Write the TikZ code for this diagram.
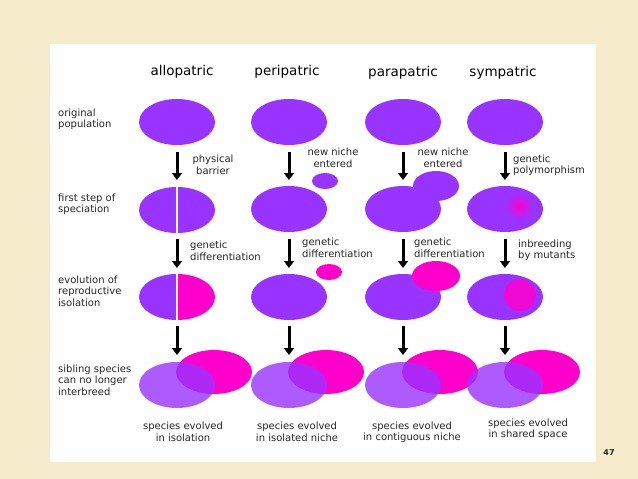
\documentclass[tikz,border=0pt]{standalone}
\usepackage{fontspec}
\usetikzlibrary{arrows.meta}
\setmainfont{DejaVu Sans}
\begin{document}
\begin{tikzpicture}[x=1pt,y=-1pt,
  lbl/.style={font=\fontsize{10}{11.5}\selectfont,align=left,inner sep=0pt,text=black!85},
  hdr/.style={font=\fontsize{13.5}{15}\selectfont,inner sep=0pt},
  arr/.style={-{Triangle[length=7pt,width=10pt]},line width=3pt}]
\definecolor{pur}{HTML}{9933FF}
\definecolor{mag}{HTML}{FF00CC}
\definecolor{parch}{HTML}{F6ECCB}
\fill[parch] (0,0) rectangle (638,479);
\useasboundingbox (0,0) rectangle (638,479);
\fill[white] (50,44) rectangle (596,462);
% headers
\node[hdr] (h1) at (182,72) {allopatric};
\node[hdr] (h2) at (287,72) {peripatric};
\node[hdr] (h3) at (403,73) {parapatric};
\node[hdr] (h4) at (503,73) {sympatric};
% left labels
\node[lbl,anchor=west] (l1) at (58,119) {original\\population};
\node[lbl,anchor=west] (l2) at (58,204) {first step of\\speciation};
\node[lbl,anchor=west] (l3) at (58,291) {evolution of\\reproductive\\isolation};
\node[lbl,anchor=west] (l4) at (58,380) {sibling species\\can no longer\\ interbreed};
% row 1
\foreach \x/\n in {177/a,289/b,403/c,505/d}
  \fill[pur] (\x,122) ellipse [x radius=38,y radius=23];
% row 2
\fill[pur] (177,210) ellipse [x radius=38,y radius=23];
\fill[white] (175.8,186) rectangle (178.2,234);
\fill[pur] (325,181) ellipse [x radius=13,y radius=8];
\fill[pur] (289,209) ellipse [x radius=38,y radius=23];
\fill[pur] (403,209) ellipse [x radius=38,y radius=23];
\fill[pur] (436,186) ellipse [x radius=23,y radius=15];
\fill[pur] (505,209) ellipse [x radius=38,y radius=23];
\shade[inner color=mag,outer color=pur] (519,206) circle (14);
% row 3
\begin{scope}
\clip (177,297) ellipse [x radius=38,y radius=23];
\fill[pur] (130,270) rectangle (177,330);
\fill[mag] (177,270) rectangle (220,330);
\end{scope}
\fill[white] (175.8,273) rectangle (178.2,321);
\fill[pur] (289,297) ellipse [x radius=38,y radius=23];
\fill[mag] (329,272) ellipse [x radius=13,y radius=8];
\fill[pur] (403,297) ellipse [x radius=38,y radius=23];
\fill[mag] (436,276) ellipse [x radius=24,y radius=15];
\fill[pur] (505,297) ellipse [x radius=38,y radius=23];
\fill[mag!85!pur] (520,295) circle (16);
% row 4
\foreach \x in {177,289,403,505}{
  \fill[mag] (\x+37,372) ellipse [x radius=38,y radius=22];
  \fill[pur,fill opacity=0.8] (\x,385) ellipse [x radius=38,y radius=23];
}
% arrows
\foreach \x/\k in {177/a,289/b,403/c,505/d}{
  \coordinate (s1\k) at (\x,152); \coordinate (e1\k) at (\x,180);
  \coordinate (s2\k) at (\x,239); \coordinate (e2\k) at (\x,268);
  \coordinate (s3\k) at (\x,326); \coordinate (e3\k) at (\x,355);
  \draw[arr] (s1\k) -- (e1\k);
  \draw[arr] (s2\k) -- (e2\k);
  \draw[arr] (s3\k) -- (e3\k);
}
% side labels
\node[lbl,align=center] (t1) at (213,165) {physical\\barrier};
\node[lbl,align=center] (t2) at (333,158) {new niche\\entered};
\node[lbl,align=center] (t3) at (443,158) {new niche\\entered};
\node[lbl,anchor=west] (t4) at (513,165) {genetic\\ polymorphism};
\node[lbl,anchor=west] (g1) at (190,251) {genetic\\differentiation};
\node[lbl,anchor=west] (g2) at (302,248) {genetic\\differentiation};
\node[lbl,anchor=west] (g3) at (414,248) {genetic\\differentiation};
\node[lbl,anchor=west] (g4) at (518,250) {inbreeding\\ by mutants};
% bottom labels
\node[lbl,align=center] (b1) at (183,432) {species evolved\\in isolation};
\node[lbl,align=center] (b2) at (297,432) {species evolved\\ in isolated niche};
\node[lbl,align=center] (b3) at (412,432) {species evolved\\ in contiguous niche};
\node[lbl,align=center] (b4) at (528,429) {species evolved\\ in shared space};
\node[lbl,font=\fontsize{8}{9}\selectfont\bfseries] (pg) at (609,453) {47};
\end{tikzpicture}
\end{document}
